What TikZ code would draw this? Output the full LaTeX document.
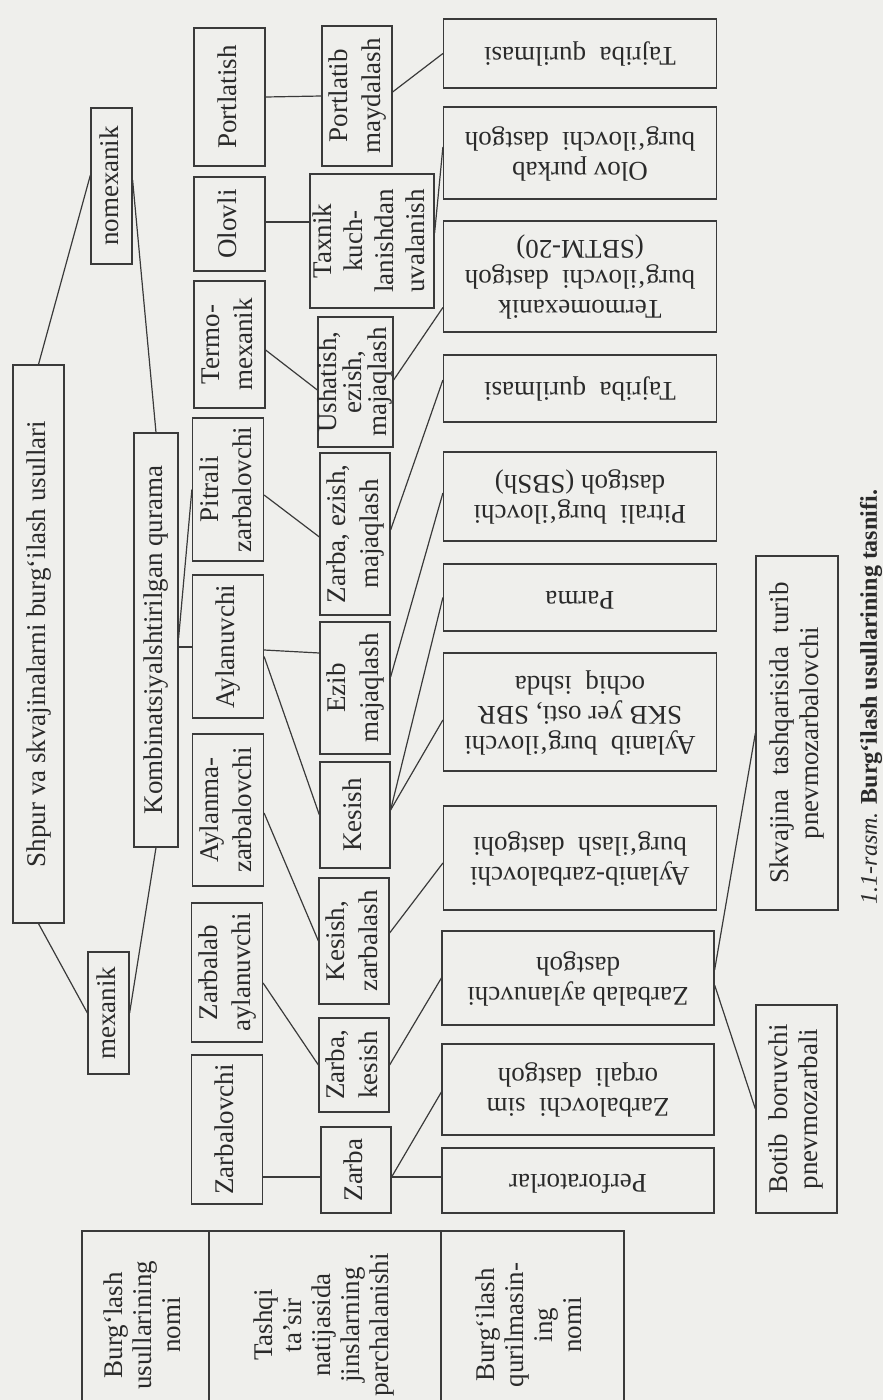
\documentclass[tikz,border=0pt]{standalone}
\usepackage{fontspec}
\setmainfont{Liberation Serif}
\usepackage{graphicx}
\usepackage{tikz}
\usetikzlibrary{positioning,calc}
\definecolor{dgline}{HTML}{3A3A3A}
\definecolor{dgtext}{HTML}{2A2A2A}
\definecolor{pagebg}{HTML}{EFEFEC}
\newcommand{\upcell}[1]{\rotatebox{90}{\begin{tabular}{@{}c@{}}#1\end{tabular}}}
\newcommand{\flipcell}[1]{\rotatebox{180}{\begin{tabular}{@{}c@{}}#1\end{tabular}}}

\begin{document}
\begin{tikzpicture}[
  x=1pt, y=-1pt,
  cell/.style 2 args={draw=dgline, line width=1.2pt, fill=pagebg, text=dgtext,
                      inner sep=0pt, minimum width=#1pt, minimum height=#2pt,
                      font=\fontsize{27}{33}\selectfont},
  rcell/.style 2 args={cell={#1}{#2}, font=\fontsize{27}{30}\selectfont},
  tcell/.style 2 args={cell={#1}{#2}, font=\fontsize{27}{29}\selectfont},
  tight/.style={font=\fontsize{27}{#1}\selectfont},
  link/.style={draw=dgline, line width=1.2pt},
]
  \useasboundingbox (0,0) rectangle (883,1400);
  \clip (0,0) rectangle (883,1400);
  \fill[pagebg] (0,0) rectangle (883,1400);

  % ---- root and the three kinds ---------------------------------------------
  \node[cell={51}{558}] (shpur) at (38.5,644) {\upcell{Shpur va skvajinalarni burg‘ilash usullari}};
  \node[cell={41}{156}] (nom) at (111.5,186) {\upcell{nomexanik}};
  \node[cell={44}{414}] (komb) at (156,640) {\upcell{Kombinatsiyalshtirilgan qurama}};
  \node[cell={41}{122}] (mex) at (108.5,1013) {\upcell{mexanik}};

  % ---- ways of drilling -----------------------------------------------------
  \node[cell={71}{138}] (port) at (229.5,97) {\upcell{Portlatish}};
  \node[cell={71}{94}] (olov) at (229.5,224) {\upcell{Olovli}};
  \node[cell={71}{127}] (termo) at (229.5,344.5) {\upcell{Termo-\\mexanik}};
  \node[cell={71}{143}] (pit) at (228,489.5) {\upcell{Pitrali\\zarbalovchi}};
  \node[cell={71}{143}] (ayl) at (228,646.5) {\upcell{Aylanuvchi}};
  \node[cell={71}{152}] (aylz) at (228,810) {\upcell{Aylanma-\\zarbalovchi}};
  \node[cell={71}{139}] (zayl) at (227,972.5) {\upcell{Zarbalab\\aylanuvchi}};
  \node[cell={71}{149}] (zbc) at (227,1129.5) {\upcell{Zarbalovchi}};

  % ---- how the rock breaks --------------------------------------------------
  \node[cell={70}{140}] (pmay) at (357,96) {\upcell{Portlatib\\maydalash}};
  \node[cell={124}{134}, tight=31] (tax) at (372,241) {\upcell{Taxnik\\kuch-\\lanishdan\\uvalanish}};
  \node[cell={71}{130}, tight=21] (ush) at (355.5,382) {\upcell{Ushatish,\\ezish,\\majaqlash}};
  \node[cell={70}{162}] (zem) at (355,534) {\upcell{Zarba, ezish,\\majaqlash}};
  \node[cell={70}{132}] (ezib) at (355,688) {\upcell{Ezib\\majaqlash}};
  \node[cell={70}{106}] (kes) at (355,815) {\upcell{Kesish}};
  \node[cell={70}{126}] (kz) at (354,941) {\upcell{Kesish,\\zarbalash}};
  \node[cell={70}{94}] (zk) at (354,1065) {\upcell{Zarba,\\kesish}};
  \node[cell={70}{86}] (zarba) at (356,1170) {\upcell{Zarba}};

  % ---- drilling machines ----------------------------------------------------
  \node[rcell={273}{69}] (taj1) at (580,53.5) {\flipcell{Tajriba\ \ qurilmasi}};
  \node[rcell={273}{92}] (olp) at (580,153) {\flipcell{Olov purkab\\burg‘ilovchi\ \ dastgoh}};
  \node[rcell={273}{111}] (sbtm) at (580,276.5) {\flipcell{Termomexanik\\burg‘ilovchi\ \ dastgoh\\(SBTM-20)}};
  \node[rcell={273}{67}] (taj2) at (580,388.5) {\flipcell{Tajriba\ \ qurilmasi}};
  \node[rcell={273}{89}] (sbsh) at (580,496.5) {\flipcell{Pitrali\ \ burg‘ilovchi\\dastgoh (SBSh)}};
  \node[rcell={273}{67}] (parma) at (580,597.5) {\flipcell{Parma}};
  \node[rcell={273}{118}] (skb) at (580,712) {\flipcell{Aylanib\ \ burg‘ilovchi\\SKB yer osti, SBR\\ochiq\ \ ishda}};
  \node[rcell={273}{104}] (azd) at (580,858) {\flipcell{Aylanib-zarbalovchi\\burg‘ilash\ \ dastgohi}};
  \node[rcell={272}{94}] (zad) at (578,978) {\flipcell{Zarbalab aylanuvchi\\dastgoh}};
  \node[rcell={272}{91}] (sim) at (578,1089.5) {\flipcell{Zarbalovchi\ \ sim\\orqali\ \ dastgoh}};
  \node[rcell={272}{65}] (perf) at (578,1180.5) {\flipcell{Perforatorlar}};

  \node[rcell={82}{354}] (skv) at (797,733) {\upcell{Skvajina\ \ tashqarisida\ \ turib\\pnevmozarbalovchi}};
  \node[rcell={81}{208}] (botib) at (796.5,1109) {\upcell{Botib\ \ boruvchi\\pnevmozarbali}};

  % ---- column heads ---------------------------------------------------------
  \node[tcell={127}{188}] (tname) at (145.5,1325) {\upcell{Burg‘lash\\usullarining\\nomi}};
  \node[tcell={232}{188}] (teffect) at (325,1325) {\upcell{Tashqi\\ta’sir\\natijasida\\jinslarning\\parchalanishi}};
  \node[tcell={183}{188}] (tdevice) at (532.5,1325) {\upcell{Burg‘ilash\\qurilmasin-\\ing\\nomi}};

  \node[text=dgtext, font=\fontsize{24}{28}\selectfont] (caption) at (871,697)
    {\rotatebox{90}{\textit{1.1-rasm.} \textbf{Burg‘ilash usullarining tasnifi.}}};

  % ---- links ----------------------------------------------------------------
  \draw[link] (shpur.north) -- ([yshift=11pt]nom.west);
  \draw[link] ([yshift=6pt]nom.east) -- (komb.north);
  \draw[link] (shpur.south) -- (mex.west);
  \draw[link] (mex.east) -- (komb.south);
  \draw[link] ([yshift=2pt]komb.east) -- (pit.west);
  \draw[link] ([yshift=-7pt]komb.east) -- ([yshift=-7pt]komb.east -| ayl.west);

  \draw[link] (port.east) -- (pmay.west);
  \draw[link] ([yshift=2pt]olov.east) -- ([yshift=2pt]olov.east -| tax.west);
  \draw[link] ([yshift=-5.5pt]termo.east) -- ([yshift=-8pt]ush.west);
  \draw[link] ([yshift=-5.5pt]pit.east) -- ([yshift=-3pt]zem.west);
  \draw[link] ([yshift=-3.5pt]ayl.east) -- ([yshift=35pt]ezib.west);
  \draw[link] ([yshift=-10pt]ayl.east) -- (kes.west);
  \draw[link] ([yshift=-3pt]aylz.east) -- (kz.west);
  \draw[link] ([yshift=-10.5pt]zayl.east) -- (zk.west);
  \draw[link] ([yshift=-7pt]zarba.west) -- ([yshift=-7pt]zarba.west -| zbc.east);

  \draw[link] ([yshift=4pt]pmay.east) -- (taj1.west);
  \draw[link] ([yshift=8pt]tax.east) -- ([yshift=6pt]olp.west);
  \draw[link] ([yshift=2pt]ush.east) -- ([yshift=-31pt]sbtm.west);
  \draw[link] ([yshift=4pt]zem.east) -- ([yshift=8.5pt]taj2.west);
  \draw[link] ([yshift=11pt]ezib.east) -- ([yshift=3.5pt]sbsh.west);
  \draw[link] ([yshift=5pt]kes.east) -- (parma.west);
  \draw[link] ([yshift=5pt]kes.east) -- ([yshift=-8pt]skb.west);
  \draw[link] ([yshift=8pt]kz.east) -- ([yshift=-5pt]azd.west);
  \draw[link] (zk.east) -- (zad.west);
  \draw[link] ([yshift=-7pt]zarba.east) -- ([yshift=-2.5pt]sim.west);
  \draw[link] ([yshift=-7pt]zarba.east) -- ([yshift=-7pt]zarba.east -| perf.west);

  \draw[link] ([yshift=8pt]zad.east) -- (skv.west);
  \draw[link] ([yshift=-7pt]zad.east) -- (botib.west);
\end{tikzpicture}
\end{document}
